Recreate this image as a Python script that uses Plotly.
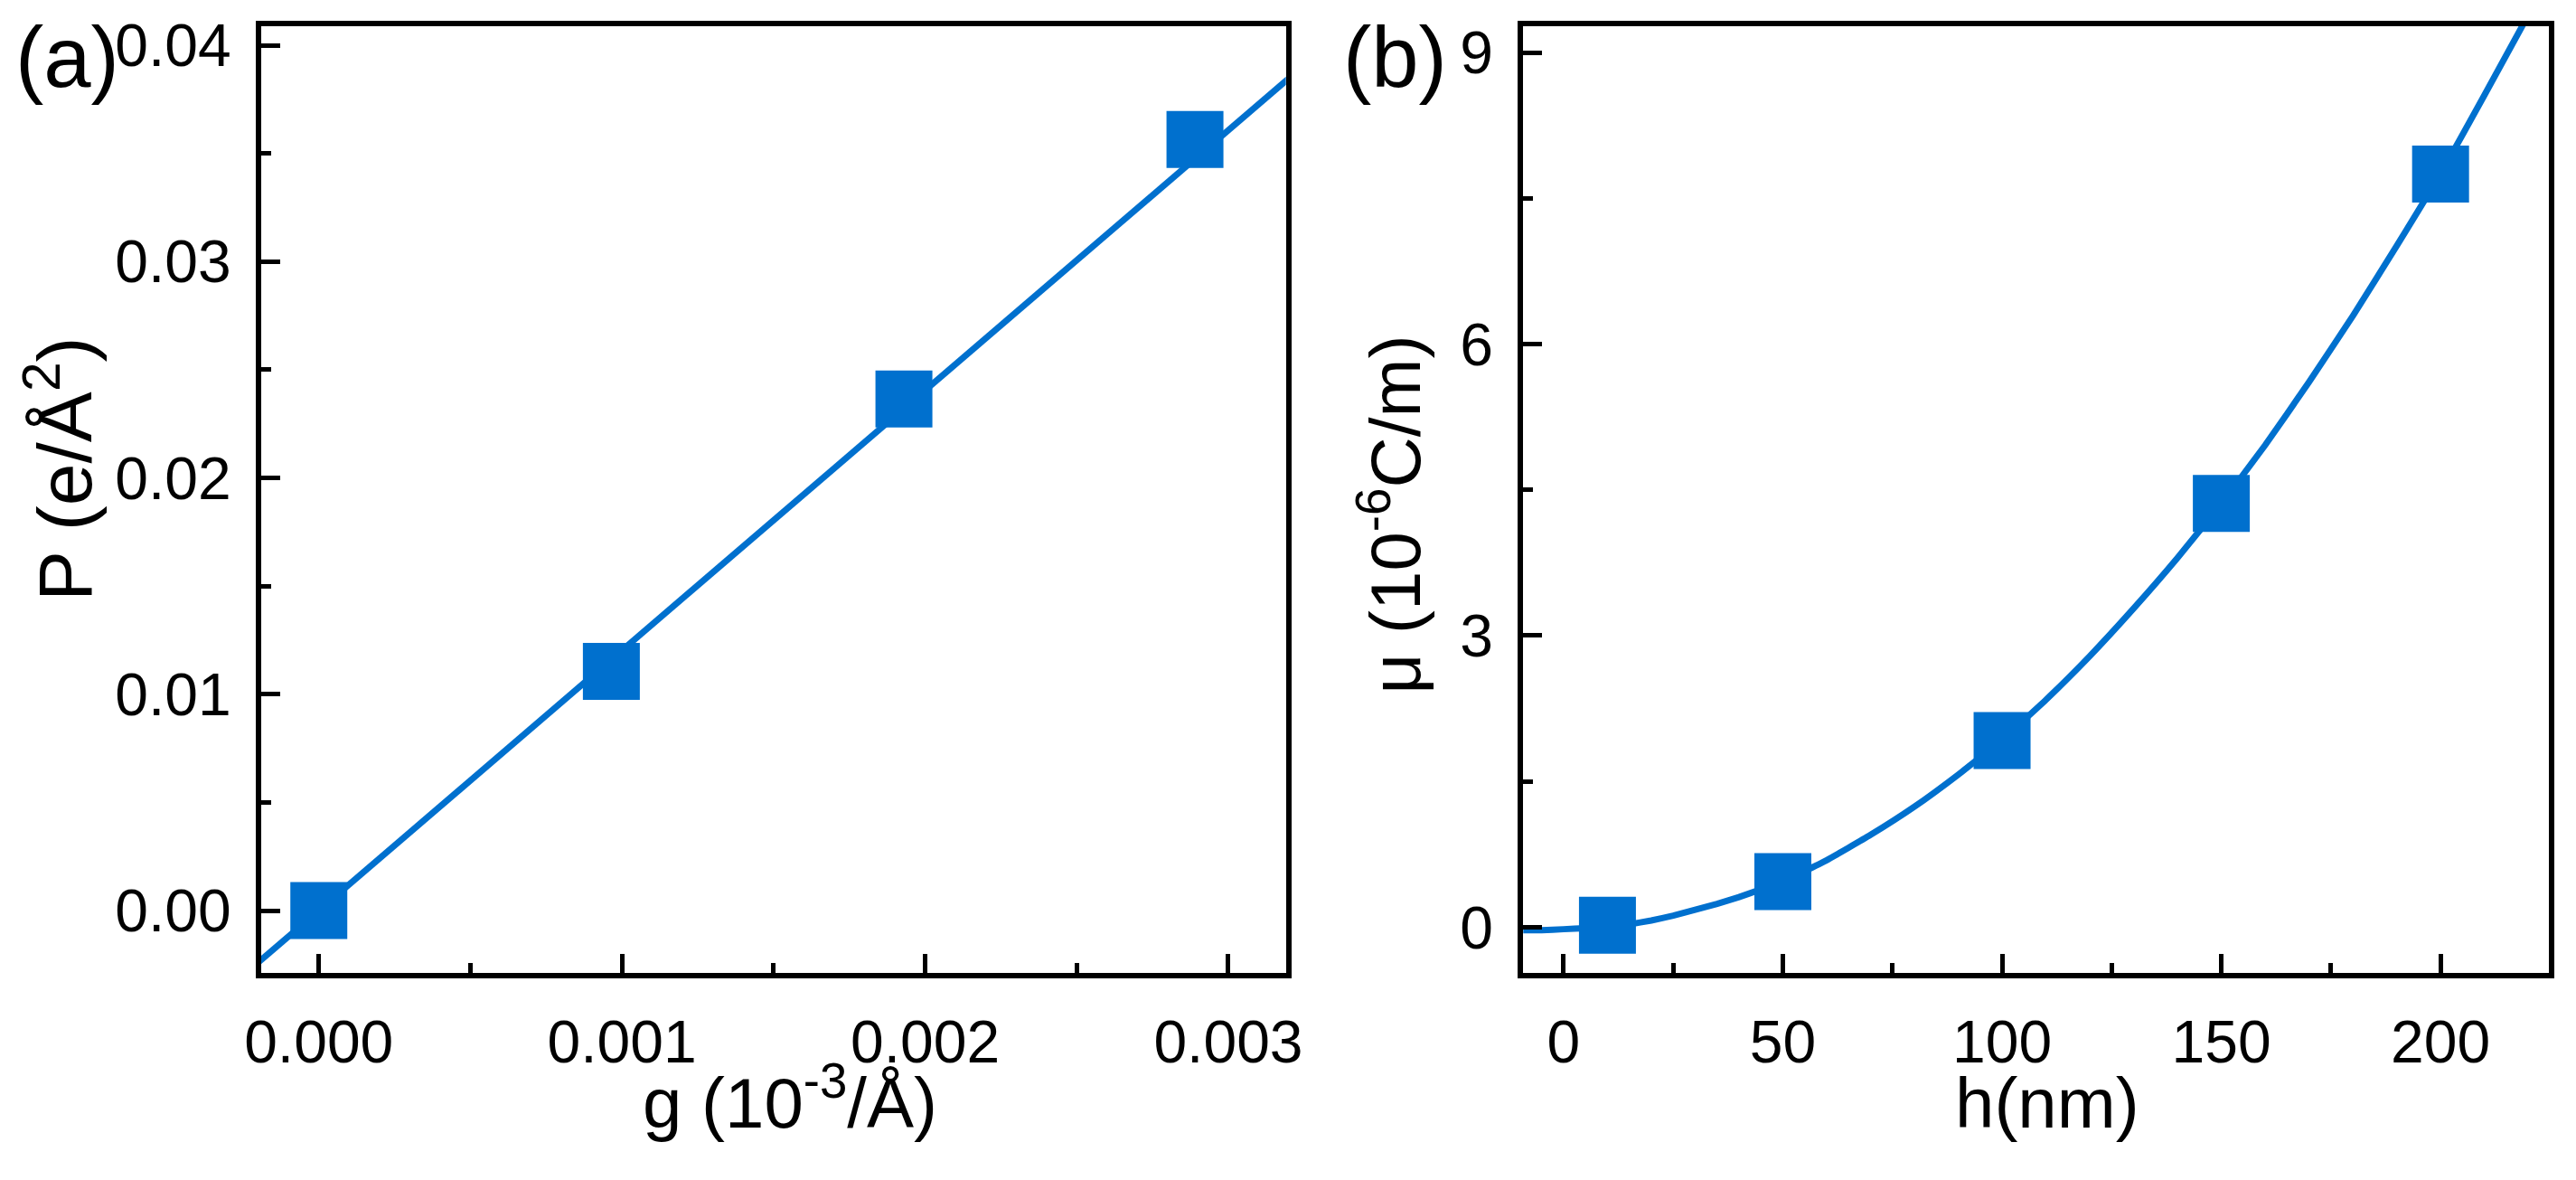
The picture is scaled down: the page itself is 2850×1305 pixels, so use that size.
import plotly.graph_objects as go

# ---------------- data ----------------
# panel (a)
g_pts = [0.0, 0.000965, 0.00193, 0.00289]
P_pts = [0.0, 0.01106, 0.02365, 0.03565]
g_fit = [-0.00025, 0.00325]
P_fit = [-0.00300, 0.03908]

# panel (b)
h_pts = [10, 50, 100, 150, 200]
mu_pts = [0.02, 0.47, 1.92, 4.36, 7.75]
h_fit = [-12, -5, 0, 5, 10, 15, 20, 25, 30, 35, 40, 45, 50, 60, 70, 80, 90, 100,
         110, 120, 130, 140, 150, 160, 170, 180, 190, 200, 210, 222]
mu_fit = [-0.03, -0.03, -0.02, -0.01, 0.0, 0.03, 0.07, 0.12, 0.18, 0.24, 0.31,
          0.39, 0.47, 0.69, 0.95, 1.24, 1.57, 1.93, 2.34, 2.79, 3.28, 3.80, 4.36,
          4.96, 5.61, 6.29, 7.01, 7.75, 8.56, 9.55]

xticks_a = [0.0, 0.001, 0.002, 0.003]
xticklabels_a = ["0.000", "0.001", "0.002", "0.003"]
yticks_a = [0.0, 0.01, 0.02, 0.03, 0.04]
yticklabels_a = ["0.00", "0.01", "0.02", "0.03", "0.04"]
xticks_b = [0, 50, 100, 150, 200]
yticks_b = [0, 3, 6, 9]

xtitle_a = "g (10<sup>-3</sup>/Å)"
ytitle_a = "P (e/Å<sup>2</sup>)"
xtitle_b = "h(nm)"
ytitle_b = "μ (10<sup>-6</sup>C/m)"
panel_labels = ["(a)", "(b)"]

BLUE = "#0070CE"
FONT = "Arial, Liberation Sans, sans-serif"
W, H = 2850, 1305

fig = go.Figure()

fig.add_trace(go.Scatter(x=g_fit, y=P_fit, mode="lines",
                         line=dict(color=BLUE, width=7),
                         xaxis="x", yaxis="y", showlegend=False))
fig.add_trace(go.Scatter(x=g_pts, y=P_pts, mode="markers",
                         marker=dict(symbol="square", size=63, color=BLUE,
                                     line=dict(width=0)),
                         xaxis="x", yaxis="y", showlegend=False))
fig.add_trace(go.Scatter(x=h_fit, y=mu_fit, mode="lines",
                         line=dict(color=BLUE, width=7, shape="spline",
                                   smoothing=0.4),
                         xaxis="x2", yaxis="y2", showlegend=False))
fig.add_trace(go.Scatter(x=h_pts, y=mu_pts, mode="markers",
                         marker=dict(symbol="square", size=63, color=BLUE,
                                     line=dict(width=0)),
                         xaxis="x2", yaxis="y2", showlegend=False))

axis_common = dict(
    showline=True, linecolor="black", linewidth=6, mirror=True,
    ticks="inside", ticklen=21, tickwidth=5, tickcolor="black",
    showgrid=False, zeroline=False, automargin=False,
    tickfont=dict(family=FONT, size=66, color="black"),
    ticklabelstandoff=14,
)
minor_common = dict(ticks="inside", ticklen=11, tickwidth=5, tickcolor="black",
                    showgrid=False)

ydom = [0.17548, 0.97778]


def ann(text, x_px, y_px, xanchor, yanchor, size, angle=0):
    return dict(text=text, x=x_px / W, y=1 - y_px / H, xref="paper", yref="paper",
                xanchor=xanchor, yanchor=yanchor, showarrow=False, textangle=angle,
                font=dict(family=FONT, size=size, color="black"))


annotations = [
    ann(xtitle_a, 874, 1266, "center", "bottom", 78),
    ann(xtitle_b, 2265, 1266, "center", "bottom", 78),
    ann(ytitle_a, 121, 519, "right", "middle", 84, -90),
    ann(ytitle_b, 1590, 569, "right", "middle", 78, -90),
    ann(panel_labels[0], 15, 118, "left", "bottom", 94),
    ann(panel_labels[1], 1484, 118, "left", "bottom", 94),
]

fig.update_layout(
    width=W, height=H,
    margin=dict(l=0, r=0, t=0, b=0, autoexpand=False),
    paper_bgcolor="white", plot_bgcolor="white",
    font=dict(family=FONT, color="black"),
    xaxis=dict(domain=[0.10140, 0.49919], range=[-0.00019, 0.00319],
               tickvals=xticks_a, ticktext=xticklabels_a,
               minor=dict(dtick=0.0005, **minor_common),
               anchor="y", **axis_common),
    yaxis=dict(domain=ydom, range=[-0.00288, 0.04088],
               tickvals=yticks_a, ticktext=yticklabels_a,
               minor=dict(dtick=0.005, **minor_common),
               anchor="x", **axis_common),
    xaxis2=dict(domain=[0.59133, 0.98947], range=[-9.2, 224.7],
                tickvals=xticks_b,
                minor=dict(dtick=25, **minor_common),
                anchor="y2", **axis_common),
    yaxis2=dict(domain=ydom, range=[-0.47, 9.27],
                tickvals=yticks_b,
                minor=dict(dtick=1.5, **minor_common),
                anchor="x2", **axis_common),
    annotations=annotations,
)

fig.write_html("out.html",
               config={"displayModeBar": False},
               post_script="document.body.style.margin='0';")
